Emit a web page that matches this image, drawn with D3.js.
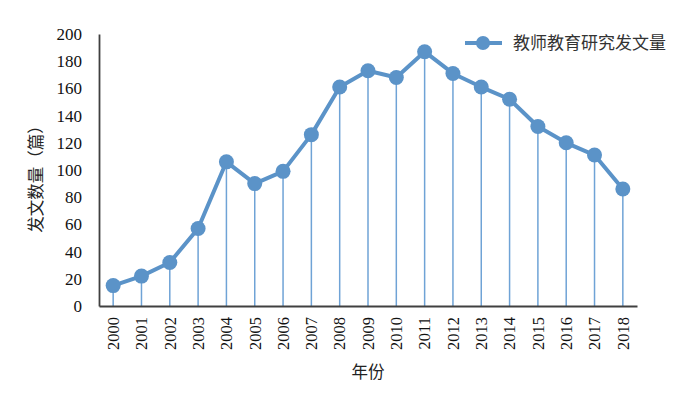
<!DOCTYPE html>
<html>
<head>
<meta charset="utf-8">
<script src="https://cdn.jsdelivr.net/npm/d3@7"></script>
<style>
  body { margin: 0; background: #fff; }
  svg { display: block; }
</style>
</head>
<body>
<svg id="chart" width="700" height="394"></svg>
<script>
const years = ['2000','2001','2002','2003','2004','2005','2006','2007','2008','2009',
  '2010','2011','2012','2013','2014','2015','2016','2017','2018']
const counts = [15, 22, 32, 57, 106, 90, 99, 126, 161, 173, 168, 187, 171, 161, 152, 132, 120, 111, 86]
const yTicks = [0, 20, 40, 60, 80, 100, 120, 140, 160, 180, 200]
const seriesName = '教师教育研究发文量'

const blue = '#5b93c8'
const axisColor = '#404040'
const cjk = '"Noto Sans CJK SC", "Noto Sans", sans-serif'
const serif = '"Liberation Serif", "DejaVu Serif", serif'

const margin = {left: 99, right: 63, top: 34, bottom: 88}
const svg = d3.select('#chart')
const w = 700 - margin.left - margin.right
const h = 394 - margin.top - margin.bottom

const g = svg.append('g').attr('transform', `translate(${margin.left},${margin.top})`)

const x = d3.scaleBand().domain(years).range([0, w]).padding(0)
const y = d3.scaleLinear().domain([0, 200]).range([h, 0])

// drop lines
g.selectAll('.drop')
  .data(counts)
  .enter()
  .append('line')
  .attr('x1', (d, i) => x(years[i]) + x.bandwidth() / 2)
  .attr('x2', (d, i) => x(years[i]) + x.bandwidth() / 2)
  .attr('y1', d => y(d))
  .attr('y2', h)
  .attr('stroke', '#6fa3d6')
  .attr('stroke-width', 1.5)

// y axis
const yAxis = g.append('g')
  .call(d3.axisLeft(y).tickValues(yTicks).tickSize(0).tickPadding(17))
yAxis.select('.domain').attr('stroke', axisColor).attr('stroke-width', 1.8)
yAxis.selectAll('text')
  .attr('font-family', serif)
  .attr('font-size', 17)
  .attr('fill', '#111')

// x axis
const xAxis = g.append('g')
  .attr('transform', `translate(0,${h})`)
  .call(d3.axisBottom(x).tickSize(0))
xAxis.select('.domain').attr('stroke', axisColor).attr('stroke-width', 1.8)
xAxis.selectAll('text')
  .attr('font-family', serif)
  .attr('font-size', 16.5)
  .attr('fill', '#111')
  .attr('transform', 'rotate(-90)')
  .attr('text-anchor', 'end')
  .attr('x', -11)
  .attr('y', 0)
  .attr('dy', '0.35em')

// series line
const line = d3.line()
  .x((d, i) => x(years[i]) + x.bandwidth() / 2)
  .y(d => y(d))

g.append('path')
  .datum(counts)
  .attr('d', line)
  .attr('fill', 'none')
  .attr('stroke', blue)
  .attr('stroke-width', 4)
  .attr('stroke-linejoin', 'round')

g.selectAll('.dot')
  .data(counts)
  .enter()
  .append('circle')
  .attr('cx', (d, i) => x(years[i]) + x.bandwidth() / 2)
  .attr('cy', d => y(d))
  .attr('r', 7.5)
  .attr('fill', blue)

// axis titles
svg.append('text')
  .attr('transform', `translate(36,175) rotate(-90)`)
  .attr('text-anchor', 'middle')
  .attr('dy', '0.35em')
  .attr('font-family', cjk)
  .attr('font-size', 16.5)
  .attr('fill', '#222')
  .text('发文数量（篇）')

svg.append('text')
  .attr('x', 368)
  .attr('y', 378)
  .attr('text-anchor', 'middle')
  .attr('font-family', cjk)
  .attr('font-size', 16.5)
  .attr('fill', '#222')
  .text('年份')

// legend
const legend = svg.append('g').attr('transform', 'translate(465,43)')
legend.append('line')
  .attr('x1', 0).attr('x2', 37)
  .attr('stroke', blue).attr('stroke-width', 4)
legend.append('circle')
  .attr('cx', 18).attr('r', 7).attr('fill', blue)
legend.append('text')
  .attr('x', 48)
  .attr('dy', '0.35em')
  .attr('font-family', cjk)
  .attr('font-size', 17)
  .attr('fill', '#333')
  .text(seriesName)
</script>
</body>
</html>
